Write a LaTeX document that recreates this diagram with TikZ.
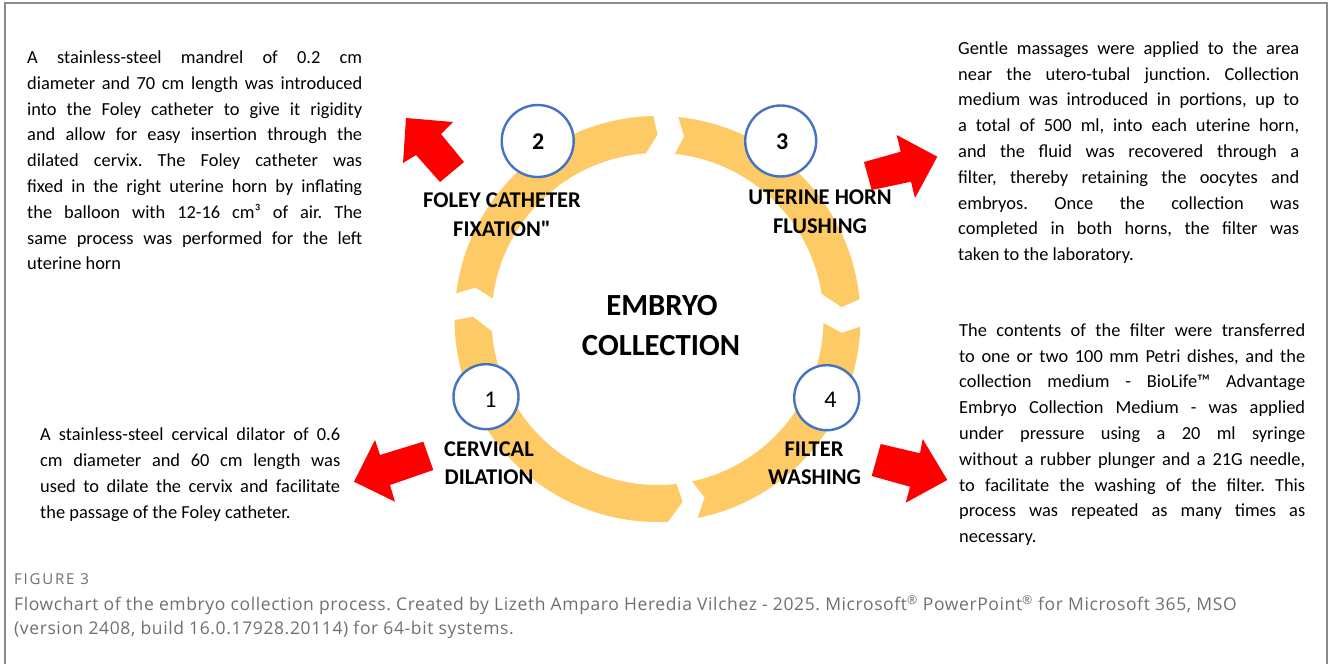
\documentclass[tikz,border=0pt]{standalone}
\usepackage{fontspec}
\setmainfont{Carlito}
\newfontfamily\plainfont{Carlito}[Ligatures=TeXOff]
\newfontfamily\capfont{Open Sans}[LetterSpace=3.5]
\newfontfamily\figfont{Open Sans}[LetterSpace=12]
\definecolor{ringc}{RGB}{254,202,102}
\definecolor{cblue}{RGB}{68,114,196}
\definecolor{frameg}{RGB}{140,140,140}
\definecolor{capg}{RGB}{112,112,112}
\newcommand{\bodyset}{\tolerance=10000 \hyphenpenalty=10000 \exhyphenpenalty=10000 \rule{0pt}{15pt}}
\frenchspacing
\begin{document}
\begin{tikzpicture}[x=1pt,y=-1pt,
  body/.style={font=\fontsize{18.4}{25.8}\selectfont, inner sep=0pt, anchor=north west, align=justify},
  lab/.style={font=\plainfont\bfseries\fontsize{22.5}{26}\selectfont, inner sep=0pt, anchor=base},
  ttl/.style={font=\bfseries\fontsize{30.7}{34}\selectfont, inner sep=0pt, anchor=base},
  circ/.style={circle, draw=cblue, line width=2.4pt, fill=white, inner sep=0pt},
  numb/.style={font=\bfseries\fontsize{24}{26}\selectfont, inner sep=0pt},
  numr/.style={font=\fontsize{24}{26}\selectfont, inner sep=0pt},
  redarrow/.style={fill={rgb,255:red,255;green,0;blue,0}},
  ring/.style={fill=ringc},
  capf/.style={font=\figfont\fontsize{15}{17}\selectfont, text=capg, inner sep=0pt, anchor=base west},
  capt/.style={font=\capfont\fontsize{17.5}{22}\selectfont, text=capg, inner sep=0pt, anchor=base west}
]
\useasboundingbox (0,0) rectangle (1328,664);
\fill[white] (0,0) rectangle (1328,664);
\draw[frameg, line width=2pt] (5,664) -- (5,3) -- (1326.5,3) -- (1326.5,664);

% ring of four arc chevrons
\begin{scope}[shift={(657.5,319)}, yscale=-1]
  \path[ring] (172.7:203) arc[start angle=172.7, end angle=91.2, radius=203] -- (90:184.5) -- (94:166) arc[start angle=94, end angle=172.9, radius=166] -- (170.2:184.5) -- cycle;
  \path[ring] (84.1:203) arc[start angle=84.1, end angle=5.6, radius=203] -- (3.7:184.5) -- (8.7:166) arc[start angle=8.7, end angle=84, radius=166] -- (81.7:184.5) -- cycle;
  \path[ring] (-2.2:203) arc[start angle=-2.2, end angle=-78.6, radius=203] -- (-75.2:184.5) -- (-78:166) arc[start angle=-78, end angle=-1.4, radius=166] -- (-4.3:184.5) -- cycle;
  \path[ring] (-87:203) arc[start angle=-87, end angle=-179.7, radius=203] -- (-180.7:184.5) -- (-175.7:166) arc[start angle=-175.7, end angle=-83.4, radius=166] -- (-82.2:184.5) -- cycle;
\end{scope}

% step circles
\node[circ, minimum size=65pt] (c1) at (486,396.7) {};
\node[circ, minimum size=72pt] (c2) at (537.7,141) {};
\node[circ, minimum size=71pt] (c3) at (780.7,141) {};
\node[circ, minimum size=65pt] (c4) at (826.7,397.7) {};
\node[numr] (n1) at (490.5,399.5) {1};
\node[numb] (n2) at (538.3,141.7) {2};
\node[numb] (n3) at (782.3,142.2) {3};
\node[numr] (n4) at (830.5,400) {4};

% labels
\node[lab] (l2a) at (502,207.3) {FOLEY CATHETER};
\node[lab] (l2b) at (502,236) {FIXATION"};
\node[lab] (l3a) at (820,204) {UTERINE HORN};
\node[lab] (l3b) at (820,233.3) {FLUSHING};
\node[lab] (l1a) at (489,456) {CERVICAL};
\node[lab] (l1b) at (489,484.3) {DILATION};
\node[lab] (l4a) at (814,456) {FILTER};
\node[lab] (l4b) at (814.5,484.3) {WASHING};
\node[ttl] (ta) at (662,315) {EMBRYO};
\node[ttl] (tb) at (661,355) {COLLECTION};

% red block arrows
\path[redarrow] (406,118) -- (453,122) -- (441,134) -- (464,162) -- (440,182) -- (416,155) -- (403,163) -- cycle;
\path[redarrow] (864,162) -- (900.7,151.7) -- (896.7,135) -- (937.3,156.7) -- (915,198) -- (911,181.7) -- (871.7,190) -- cycle;
\path[redarrow] (354,481.7) -- (375,440) -- (380,455) -- (423.3,441.7) -- (433.3,470) -- (390,485) -- (395,501.7) -- cycle;
\path[redarrow] (880.7,444) -- (920,453.3) -- (922.7,439) -- (947.3,480) -- (905.7,502.7) -- (910,486.7) -- (871.7,476) -- cycle;

% text blocks
\node[body, text width=335pt] (t2) at (27,48.3) {\bodyset A stainless-steel mandrel of 0.2 cm\linebreak
diameter and 70 cm length was introduced\linebreak
into the Foley catheter to give it rigidity\linebreak
and allow for easy insertion through the\linebreak
dilated cervix. The Foley catheter was\linebreak
fixed in the right uterine horn by inflating\linebreak
the balloon with 12-16 cm³ of air. The\linebreak
same process was performed for the left\linebreak
uterine horn};

\node[body, text width=341pt] (t3) at (958,39) {\bodyset Gentle massages were applied to the area\linebreak
near the utero-tubal junction. Collection\linebreak
medium was introduced in portions, up to\linebreak
a total of 500 ml, into each uterine horn,\linebreak
and the fluid was recovered through a\linebreak
filter, thereby retaining the oocytes and\linebreak
embryos. Once the collection was\linebreak
completed in both horns, the filter was\linebreak
taken to the laboratory.};

\node[body, text width=346pt] (t4) at (959,321) {\bodyset The contents of the filter were transferred\linebreak
to one or two 100 mm Petri dishes, and the\linebreak
collection medium - BioLife™ Advantage\linebreak
Embryo Collection Medium - was applied\linebreak
under pressure using a 20 ml syringe\linebreak
without a rubber plunger and a 21G needle,\linebreak
to facilitate the washing of the filter. This\linebreak
process was repeated as many times as\linebreak
necessary.};

\node[body, text width=300pt] (t1) at (40,425.7) {\bodyset A stainless-steel cervical dilator of 0.6\linebreak
cm diameter and 60 cm length was\linebreak
used to dilate the cervix and facilitate\linebreak
the passage of the Foley catheter.};

% caption
\node[capf] (fig) at (14,584) {FIGURE 3};
\node[capt] (cap1) at (14,610.5) {Flowchart of the embryo collection process. Created by Lizeth Amparo Heredia Vilchez - 2025. Microsoft\textsuperscript{®} PowerPoint\textsuperscript{®} for Microsoft 365, MSO};
\node[capt] (cap2) at (14,634.5) {(version 2408, build 16.0.17928.20114) for 64-bit systems.};
\end{tikzpicture}
\end{document}
